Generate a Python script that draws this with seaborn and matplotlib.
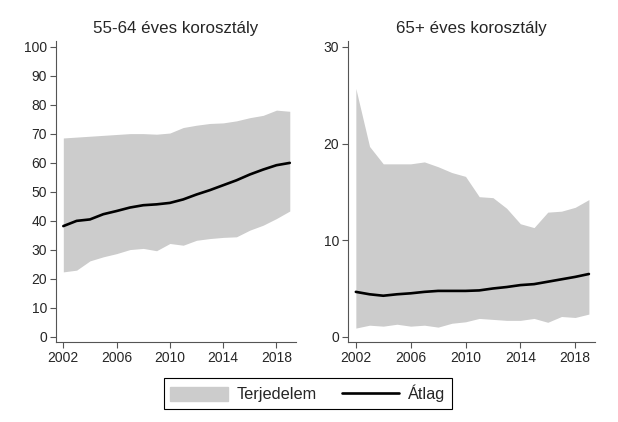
import matplotlib

matplotlib.use("Agg")
import matplotlib.pyplot as plt
import pandas as pd
import seaborn as sns
from matplotlib.lines import Line2D
from matplotlib.patches import Patch

sns.set_theme(style="ticks")
plt.rcParams["font.family"] = ["Liberation Sans", "DejaVu Sans"]

years = list(range(2002, 2020))

# 55-64 eves korosztaly
young_upper = [68.6, 68.9, 69.2, 69.5, 69.8, 70.1, 70.1, 69.9, 70.3, 72.2,
               73.0, 73.6, 73.8, 74.5, 75.6, 76.4, 78.2, 77.8]
young_lower = [22.4, 23.0, 26.2, 27.6, 28.7, 30.1, 30.5, 29.7, 32.2, 31.6,
               33.3, 33.9, 34.3, 34.5, 36.8, 38.5, 40.8, 43.4]
young_mean = [38.2, 40.0, 40.5, 42.3, 43.4, 44.6, 45.4, 45.7, 46.2, 47.4,
              49.1, 50.6, 52.3, 54.0, 56.0, 57.7, 59.2, 60.0]

# 65+ eves korosztaly
old_upper = [25.7, 19.7, 17.9, 17.9, 17.9, 18.1, 17.6, 17.0, 16.6, 14.5,
             14.4, 13.3, 11.7, 11.3, 12.9, 13.0, 13.4, 14.2]
old_lower = [0.9, 1.2, 1.1, 1.3, 1.1, 1.2, 1.0, 1.4, 1.55, 1.9,
             1.8, 1.7, 1.7, 1.9, 1.5, 2.1, 2.0, 2.35]
old_mean = [4.65, 4.4, 4.25, 4.4, 4.5, 4.65, 4.75, 4.75, 4.75, 4.8,
            5.0, 5.15, 5.35, 5.45, 5.7, 5.95, 6.2, 6.5]

titles = ["55-64 éves korosztály", "65+ éves korosztály"]
legend_labels = ["Terjedelem", "Átlag"]

FILL = "#cccccc"
SPINE = "#555555"

fig = plt.figure(figsize=(6.18, 4.22), dpi=100)
ax_left = fig.add_axes([0.0906, 0.190, 0.388, 0.713])
ax_right = fig.add_axes([0.5636, 0.190, 0.3993, 0.713])

panels = [
    (ax_left, young_upper, young_lower, young_mean, (-1.72, 102.07), range(0, 101, 10)),
    (ax_right, old_upper, old_lower, old_mean, (-0.52, 30.62), range(0, 31, 10)),
]

for (ax, upper, lower, mean, ylim, yticks), title in zip(panels, titles):
    df = pd.DataFrame({"year": years, "upper": upper, "lower": lower, "mean": mean})
    ax.fill_between(df["year"], df["lower"], df["upper"], color=FILL, linewidth=0)
    sns.lineplot(data=df, x="year", y="mean", color="black", linewidth=1.9, ax=ax)
    ax.set_xlim(2001.45, 2019.45)
    ax.set_ylim(*ylim)
    ax.set_xticks([2002, 2006, 2010, 2014, 2018])
    ax.set_yticks(list(yticks))
    ax.set_xlabel("")
    ax.set_ylabel("")
    ax.set_title(title, fontsize=12.2, pad=6)
    ax.tick_params(labelsize=10, length=4, width=0.8, color=SPINE, pad=2.5)
    for side in ["left", "bottom"]:
        ax.spines[side].set_color(SPINE)
        ax.spines[side].set_linewidth(0.8)
    sns.despine(ax=ax)

handles = [
    Patch(facecolor=FILL, edgecolor=FILL),
    Line2D([0], [0], color="black", linewidth=1.9),
]
leg = fig.legend(
    handles,
    legend_labels,
    loc="center",
    bbox_to_anchor=(0.498, 0.067),
    ncol=2,
    fontsize=11.8,
    frameon=True,
    fancybox=False,
    edgecolor="black",
    framealpha=1,
    handlelength=3.5,
    handleheight=0.9,
    handletextpad=0.55,
    columnspacing=1.5,
    borderpad=0.4,
)
leg.get_frame().set_linewidth(0.8)

fig.savefig("out.png", dpi=100)
